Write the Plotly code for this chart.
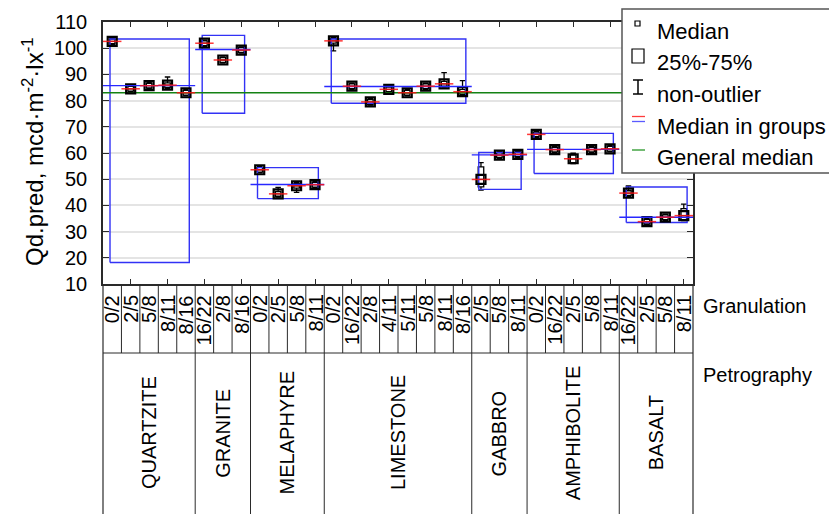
import plotly.graph_objects as go

# ---- data -----------------------------------------------------------------
groups = ["QUARTZITE", "GRANITE", "MELAPHYRE", "LIMESTONE", "GABBRO", "AMPHIBOLITE", "BASALT"]
granulation = [
    ["0/2", "2/5", "5/8", "8/11", "8/16"],
    ["16/22", "2/8", "8/16"],
    ["0/2", "2/5", "5/8", "8/11"],
    ["0/2", "16/22", "2/8", "4/11", "5/11", "5/8", "8/11", "8/16"],
    ["2/5", "5/8", "8/11"],
    ["0/2", "16/22", "2/5", "5/8", "8/11"],
    ["16/22", "2/5", "5/8", "8/11"],
]

median = [102.6, 84.5, 85.7, 85.9, 83.0,
          101.9, 95.5, 99.3,
          53.6, 44.4, 47.5, 47.9,
          102.8, 85.5, 79.5, 84.3, 83.0, 85.5, 86.4, 83.4,
          49.9, 59.2, 59.5,
          67.1, 61.3, 57.8, 61.3, 61.6,
          44.7, 33.8, 35.5, 36.1]
q1 = [101.7, 83.6, 84.8, 85.0, 82.1,
      101.0, 94.6, 98.4,
      52.7, 43.5, 46.6, 47.0,
      101.9, 84.6, 78.6, 83.4, 82.1, 84.6, 85.5, 82.5,
      47.1, 58.3, 58.6,
      66.2, 60.4, 56.3, 60.4, 60.7,
      43.8, 32.9, 34.6, 34.5]
q3 = [103.5, 85.4, 86.6, 86.8, 83.9,
      102.8, 96.4, 100.2,
      54.5, 45.3, 48.4, 48.8,
      103.7, 86.4, 80.4, 85.2, 83.9, 86.4, 87.3, 84.3,
      54.7, 60.1, 60.4,
      68.0, 62.2, 59.2, 62.2, 62.5,
      45.6, 34.7, 36.4, 38.8]
low = [101.4, 83.3, 84.5, 84.7, 81.8,
       100.7, 94.3, 98.1,
       52.4, 43.2, 45.0, 46.7,
       99.0, 84.3, 78.3, 83.1, 81.8, 84.3, 85.2, 82.2,
       45.8, 58.0, 58.3,
       65.9, 60.1, 56.0, 60.1, 60.4,
       43.5, 32.6, 34.3, 34.2]
high = [103.8, 85.7, 86.9, 89.0, 84.2,
        103.1, 96.7, 100.5,
        54.8, 46.9, 48.7, 49.1,
        104.0, 86.7, 80.7, 85.5, 84.2, 86.7, 90.7, 87.6,
        56.3, 60.4, 60.7,
        68.3, 62.5, 59.9, 62.5, 62.8,
        47.4, 35.0, 36.7, 40.5]

group_median = [85.7, 99.5, 48.0, 85.4, 59.3, 61.4, 35.5]
group_low = [18.2, 75.2, 42.6, 79.0, 46.1, 52.2, 33.5]
group_high = [103.5, 104.9, 54.4, 103.5, 60.2, 67.5, 47.0]
general_median = 83.0

y_ticks = list(range(10, 111, 10))

# ---- layout geometry ------------------------------------------------------
W, H = 829, 514
ML, MR, MT, MB = 103, 136, 22, 230
PW, PH = W - ML - MR, H - MT - MB
FONT = "Liberation Sans, Arial, sans-serif"


def px(xp):
    return (xp - ML) / PW


def py(yp):
    return (H - MB - yp) / PH


# category positions
labels, starts = [], []
pos = 0
for g in granulation:
    starts.append(pos)
    labels.extend(g)
    pos += len(g)
n_cat = pos
xs = list(range(n_cat))

fig = go.Figure()

# group rectangles (blue)
rx, ry = [], []
for gi, g in enumerate(granulation):
    a = starts[gi] - 0.12
    b = starts[gi] + len(g) - 1 + 0.18
    rx += [a, b, b, a, a, None]
    ry += [group_low[gi], group_low[gi], group_high[gi], group_high[gi], group_low[gi], None]
fig.add_trace(go.Scatter(x=rx, y=ry, mode="lines", line=dict(color="rgb(50,50,245)", width=1.4),
                         hoverinfo="skip"))

# general median (green)
fig.add_trace(go.Scatter(x=[-0.5, n_cat - 0.5], y=[general_median, general_median], mode="lines",
                         line=dict(color="rgb(20,130,20)", width=1.4), hoverinfo="skip"))

# boxes with whiskers
fig.add_trace(go.Box(x=xs, q1=q1, median=median, q3=q3, lowerfence=low, upperfence=high,
                     width=0.3, whiskerwidth=1, boxpoints=False,
                     line=dict(color="black", width=1.3), fillcolor="white"))

# median markers
fig.add_trace(go.Scatter(x=xs, y=median, mode="markers",
                         marker=dict(symbol="square-open", size=9, color="black",
                                     line=dict(width=2.2, color="black")),
                         hoverinfo="skip"))

# median in groups: blue per group, red per category
bx, by = [], []
for gi, g in enumerate(granulation):
    a = starts[gi] - 0.5
    b = starts[gi] + len(g) - 0.5
    bx += [a, b, None]
    by += [group_median[gi], group_median[gi], None]
fig.add_trace(go.Scatter(x=bx, y=by, mode="lines", line=dict(color="rgb(40,40,255)", width=1.4),
                         hoverinfo="skip"))
redx, redy = [], []
for i, m in zip(xs, median):
    redx += [i - 0.5, i + 0.5, None]
    redy += [m, m, None]
fig.add_trace(go.Scatter(x=redx, y=redy, mode="lines", line=dict(color="rgba(255,20,20,0.85)", width=1.5),
                         hoverinfo="skip"))

shapes = []
annotations = []
line_col = "#2a2a2a"

# category table below the plot
row1_bottom = py(353)
table_bottom = py(516)
shapes.append(dict(type="line", xref="paper", yref="paper", x0=0, x1=1, y0=row1_bottom, y1=row1_bottom,
                   line=dict(color=line_col, width=1)))
for xb in (0, 1):
    shapes.append(dict(type="line", xref="paper", yref="paper", x0=xb, x1=xb, y0=0, y1=table_bottom,
                       line=dict(color=line_col, width=1.2)))
for i in range(1, n_cat):
    shapes.append(dict(type="line", xref="paper", yref="paper", x0=i / n_cat, x1=i / n_cat,
                       y0=0, y1=row1_bottom, line=dict(color=line_col, width=1)))
for s in starts[1:]:
    shapes.append(dict(type="line", xref="paper", yref="paper", x0=s / n_cat, x1=s / n_cat,
                       y0=row1_bottom, y1=table_bottom, line=dict(color=line_col, width=1)))

for i, lab in enumerate(labels):
    annotations.append(dict(x=i, xref="x", y=py(293), yref="paper", text=lab, textangle=-90,
                            showarrow=False, xanchor="center", yanchor="top",
                            font=dict(size=20, color="black", family=FONT)))
for gi, g in enumerate(groups):
    c = starts[gi] + (len(granulation[gi]) - 1) / 2
    annotations.append(dict(x=c, xref="x", y=py(433), yref="paper", text=g, textangle=-90,
                            showarrow=False, xanchor="center", yanchor="middle",
                            font=dict(size=20, color="black", family=FONT)))
annotations.append(dict(x=px(701), xref="paper", y=py(306), yref="paper", text="Granulation",
                        showarrow=False, xanchor="left", yanchor="middle",
                        font=dict(size=20, color="black", family=FONT)))
annotations.append(dict(x=px(701), xref="paper", y=py(375), yref="paper", text="Petrography",
                        showarrow=False, xanchor="left", yanchor="middle",
                        font=dict(size=20, color="black", family=FONT)))

# y-axis title
annotations.append(dict(x=px(33), xref="paper", y=py(152), yref="paper",
                        text="Qd.pred, mcd·m<sup>-2</sup>·lx<sup>-1</sup>", textangle=-90,
                        showarrow=False, xanchor="center", yanchor="middle",
                        font=dict(size=24, color="black", family=FONT)))

# legend panel
shapes.append(dict(type="rect", xref="paper", yref="paper", x0=px(622), x1=px(835), y0=py(173), y1=py(9),
                   fillcolor="white", line=dict(color="#555", width=1.5), layer="above"))
leg_items = [("Median", 31), ("25%-75%", 62), ("non-outlier", 93), ("Median in groups", 125),
             ("General median", 156)]
for txt, yc in leg_items:
    annotations.append(dict(x=px(655), xref="paper", y=py(yc + 1), yref="paper", text=txt,
                            showarrow=False, xanchor="left", yanchor="middle",
                            font=dict(size=22, color="black", family=FONT)))
# legend symbols
shapes.append(dict(type="rect", xref="paper", yref="paper", x0=px(635), x1=px(640), y0=py(26), y1=py(21),
                   line=dict(color="black", width=1.2), layer="above"))
shapes.append(dict(type="rect", xref="paper", yref="paper", x0=px(632), x1=px(644), y0=py(63), y1=py(49),
                   line=dict(color="black", width=1.2), layer="above"))
for seg in [((638, 80), (638, 94)), ((633, 80), (643, 80)), ((633, 94), (643, 94))]:
    shapes.append(dict(type="line", xref="paper", yref="paper", x0=px(seg[0][0]), y0=py(seg[0][1]),
                       x1=px(seg[1][0]), y1=py(seg[1][1]), line=dict(color="black", width=1.5),
                       layer="above"))
for yy, col in [(116.5, "rgb(255,60,60)"), (121.5, "rgb(90,90,255)"), (150, "rgb(40,150,40)")]:
    shapes.append(dict(type="line", xref="paper", yref="paper", x0=px(632), x1=px(645), y0=py(yy), y1=py(yy),
                       line=dict(color=col, width=1.3), layer="above"))

fig.update_layout(
    width=W, height=H,
    margin=dict(l=ML, r=MR, t=MT, b=MB, pad=0),
    paper_bgcolor="white", plot_bgcolor="white",
    showlegend=False,
    font=dict(family=FONT, size=20, color="black"),
    shapes=shapes, annotations=annotations,
    xaxis=dict(range=[-0.5, n_cat - 0.5], showgrid=False, zeroline=False, showline=True,
               linecolor=line_col, linewidth=1.5, mirror="ticks", ticks="inside", ticklen=5,
               tickcolor=line_col, tickvals=[i for i in xs if i % 2 == 1], showticklabels=False),
    yaxis=dict(range=[10, 110], tickvals=y_ticks, showgrid=True, gridcolor="#e4e4e4", gridwidth=1.5,
               zeroline=False, showline=True, linecolor=line_col, linewidth=1.5, mirror="ticks",
               ticks="inside", ticklen=6, tickcolor=line_col, ticklabelstandoff=10,
               tickfont=dict(size=20, family=FONT, color="black")),
)

fig.write_html("out.html")
